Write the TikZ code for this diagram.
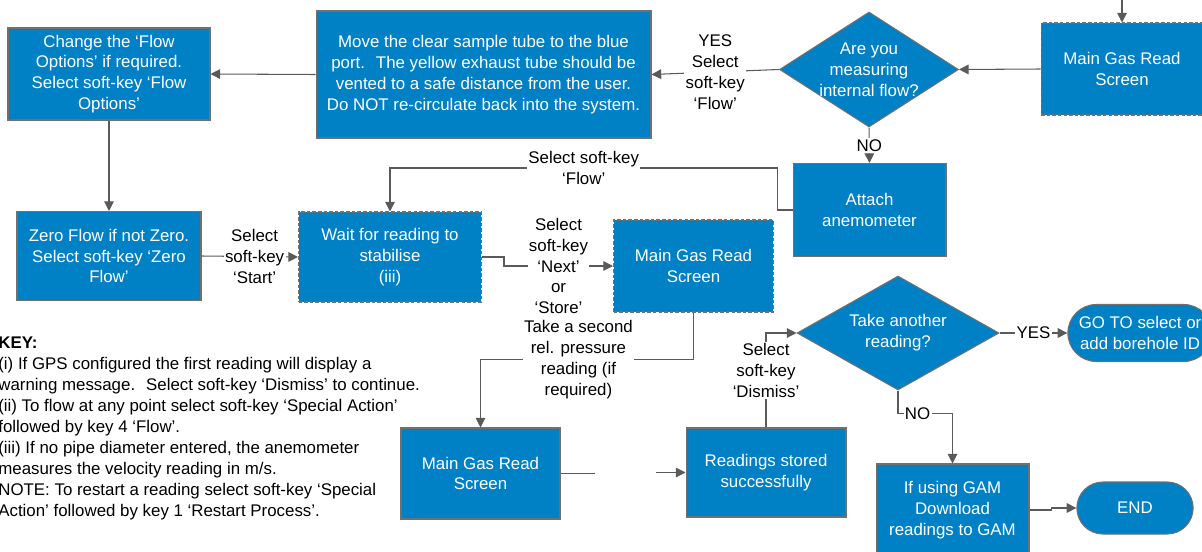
\documentclass[tikz,border=0pt]{standalone}
\usepackage{fontspec}
\setmainfont{Liberation Sans}
\usetikzlibrary{arrows.meta,shapes.geometric,shapes.misc}
\definecolor{flowblue}{RGB}{0,129,198}
\definecolor{boxline}{RGB}{112,112,112}
\definecolor{linkgray}{RGB}{90,90,90}

\begin{document}
\begin{tikzpicture}[x=0.02cm, y=-0.02cm, font=\fontsize{9.6}{11.9}\selectfont,
    box/.style={rectangle, draw=boxline, fill=flowblue, text=white, align=center, line width=0.6pt, inner sep=2pt},
    dbox/.style={box, dash pattern=on 2pt off 1.2pt},
    decision/.style={diamond, draw=boxline, fill=flowblue, line width=0.6pt, inner sep=0pt},
    dtext/.style={text=white, align=center},
    terminal/.style={rounded rectangle, draw=boxline, fill=flowblue, text=white, align=center, line width=0.6pt},
    lbl/.style={fill=white, inner sep=0.8pt, align=center},
    link/.style={draw=linkgray, line width=0.6pt, -{Triangle[length=5.5pt,width=5.5pt]}}]
    \useasboundingbox (0,0) rectangle (1202,551);
    % Top row
    \node[box, minimum width=4.04cm, minimum height=1.84cm] (chg) at (109,74) {Change the ‘Flow\\Options’ if required.\\Select soft-key ‘Flow\\Options’};
    \node[box, minimum width=6.7cm, minimum height=2.54cm] (move) at (483.5,74.5) {Move the clear sample tube to the blue\\port.~ The yellow exhaust tube should be\\vented to a safe distance from the user.\\Do NOT re-circulate back into the system.};
    \node[decision, minimum width=3.58cm, minimum height=2.3cm, label={[dtext]center:Are you\\measuring\\internal flow?}] (flowq) at (869,69.5) {};
    \node[dbox, minimum width=3.24cm, minimum height=1.84cm] (gasread1) at (1122,69) {Main Gas Read\\Screen};
    \coordinate (topin) at (1122,-2);
    % Middle row
    \node[box, minimum width=3.06cm, minimum height=1.86cm] (attach) at (869.5,210) {Attach\\anemometer};
    \node[box, minimum width=3.68cm, minimum height=1.78cm] (zero) at (109,256) {Zero Flow if not Zero.\\Select soft-key ‘Zero\\Flow’};
    \node[dbox, minimum width=3.66cm, minimum height=1.8cm] (wait) at (390,257) {Wait for reading to\\stabilise\\(iii)};
    \node[dbox, minimum width=3.2cm, minimum height=1.84cm] (gasread2) at (693.5,266) {Main Gas Read\\Screen};
    \node[decision, minimum width=4.04cm, minimum height=2.28cm, label={[dtext]center:Take another\\reading?}] (againq) at (898,333) {};
    \node[terminal, minimum width=3.12cm, minimum height=1.14cm] (goto) at (1140,333) {GO TO select or\\add borehole ID};
    % Bottom row
    \node[box, minimum width=3.18cm, minimum height=1.82cm] (gasread3) at (480.5,473.5) {Main Gas Read\\Screen};
    \node[box, minimum width=3.2cm, minimum height=1.78cm] (stored) at (766,472.5) {Readings stored\\successfully};
    \node[box, minimum width=3.06cm, minimum height=1.84cm] (gam) at (952.5,510) {If using GAM\\Download\\readings to GAM};
    \node[terminal, minimum width=2.56cm, minimum height=1.04cm] (endnode) at (1135,508) {END};
    % Key
    \node[anchor=north west, inner sep=0pt, align=left] (key) at (-2,337) {\textbf{KEY:}\\
      (i) If GPS configured the first reading will display a\\
      warning message.~ Select soft-key ‘Dismiss’ to continue.\\
      (ii) To flow at any point select soft-key ‘Special Action’\\
      followed by key 4 ‘Flow’.\\
      (iii) If no pipe diameter entered, the anemometer\\
      measures the velocity reading in m/s.\\
      NOTE: To restart a reading select soft-key ‘Special\\
      Action’ followed by key 1 ‘Restart Process’.};
    % Connectors
    \draw[link] (topin) -- (gasread1.north);
    \draw[link] (gasread1.west) -- (flowq.east);
    \draw[link] (flowq.west) -- node[lbl] {YES\\Select\\soft-key\\‘Flow’} (move.east);
    \draw[link] (move.west) -- (chg.east);
    \draw[link] (chg.south) -- (zero.north);
    \draw[link] (flowq.south) -- node[lbl] {NO} (attach.north);
    \draw[link] (attach.west) -| ++(-15,-42) -| node[lbl, pos=0.25] {Select soft-key\\‘Flow’} (wait.north);
    \draw[link] (zero.east) -- node[lbl, pos=0.55] {Select\\soft-key\\‘Start’} (wait.west);
    \draw[link] (wait.east) -- ++(22,0) |- node[lbl, pos=0.75] {Select\\soft-key\\‘Next’\\or\\‘Store’} (gasread2.west);
    \draw[link] (gasread2.south) -- ++(0,47) -| node[lbl, pos=0.27] {Take a second\\rel. pressure\\reading (if\\required)} (gasread3.north);
    \coordinate (gapL) at (595,473.5);
    \coordinate (gapR) at (656,472.5);
    \draw[draw=linkgray, line width=0.6pt] (gasread3.east) -- (gapL);
    \draw[link] (gapR) -- (stored.west);
    \draw[link] (stored.north) |- node[lbl, pos=0.3] {Select\\soft-key\\‘Dismiss’} (againq.west);
    \draw[link] (againq.east) -- node[lbl] {YES} (goto.west);
    \draw[link] (againq.south) -- ++(0,23) -| node[lbl, pos=0.18] {NO} (gam.north);
    \draw[link] (gam.east) -- ++(22,0) |- (endnode.west);
\end{tikzpicture}
\end{document}
